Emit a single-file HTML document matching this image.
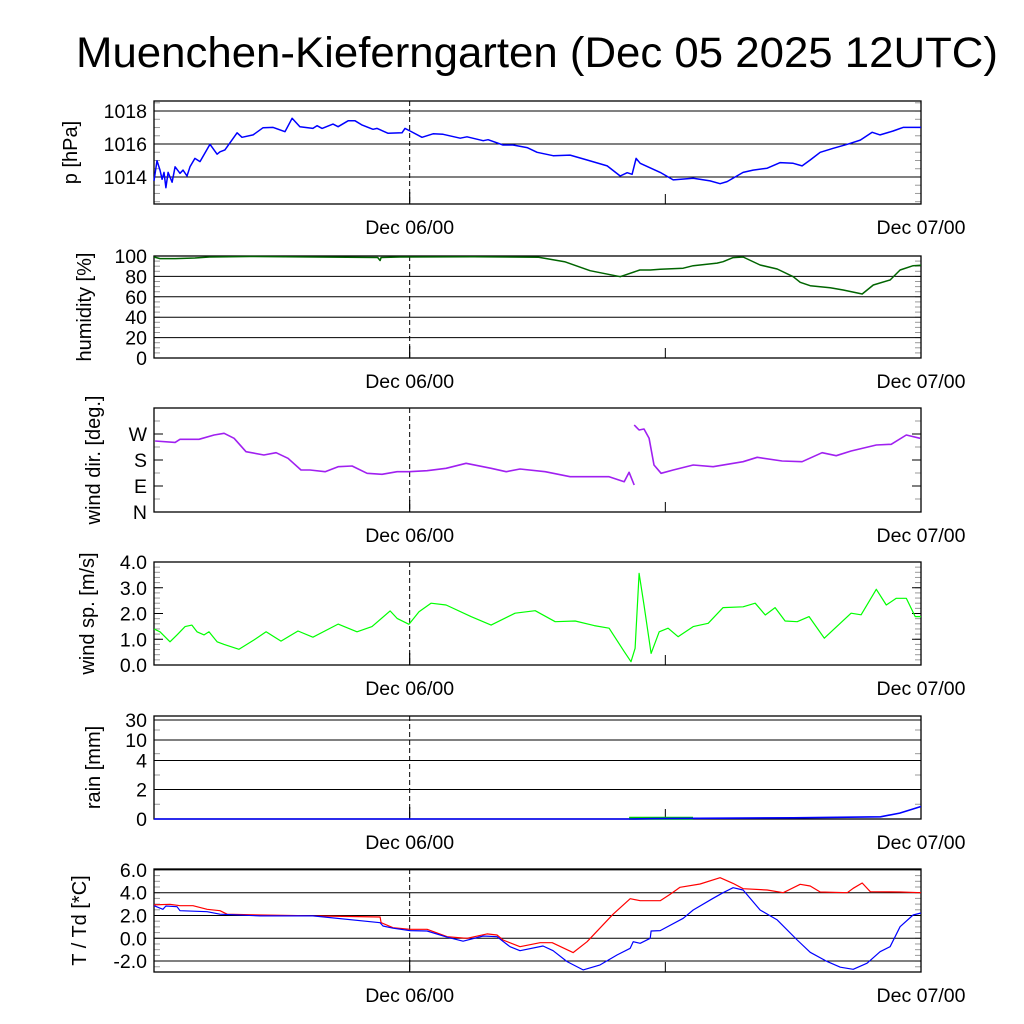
<!DOCTYPE html>
<html><head><meta charset="utf-8"><style>
body{margin:0;background:#fff}
svg{display:block;font-family:"Liberation Sans",sans-serif}
</style></head><body>
<svg id="chart" width="1024" height="1024" viewBox="0 0 1024 1024" xmlns="http://www.w3.org/2000/svg">
<rect width="1024" height="1024" fill="#fff"/>
<text x="537" y="67" font-size="43" text-anchor="middle" textLength="922" lengthAdjust="spacingAndGlyphs">Muenchen-Kieferngarten (Dec 05 2025 12UTC)</text>
<g id="plots"></g>
</svg>
<script>
// time axis in hours from Dec 05 12UTC
const xTickHours = [12, 24, 36];
const xTickLabels = ["Dec 06/00", "Dec 06/12", "Dec 07/00"];

const pTimes = [0,0.14,0.28,0.38,0.47,0.56,0.66,0.85,0.99,1.22,1.36,1.55,1.69,1.92,2.16,2.63,2.96,3.10,3.33,3.90,4.13,4.65,5.12,5.59,6.15,6.48,6.85,7.46,7.65,7.89,8.40,8.64,9.11,9.44,9.77,10.28,10.47,10.99,11.64,11.78,12.02,12.58,13.10,13.57,14.37,14.69,15.45,15.68,16.38,16.85,17.51,17.98,18.73,19.53,20.33,21.27,21.88,22.21,22.44,22.63,22.82,23.76,24.37,25.31,26.10,26.57,26.90,27.65,28.12,28.78,29.39,30.00,30.42,30.80,31.27,31.88,32.54,33.15,33.71,34.08,34.69,35.16,36];
const pValues = [1013.76,1014.99,1014.42,1013.86,1014.28,1013.35,1014.28,1013.68,1014.62,1014.22,1014.42,1014.06,1014.62,1015.13,1014.93,1015.98,1015.38,1015.53,1015.64,1016.68,1016.41,1016.55,1016.99,1017.01,1016.75,1017.56,1017.05,1016.95,1017.11,1016.95,1017.21,1017.05,1017.41,1017.41,1017.15,1016.89,1016.95,1016.65,1016.68,1016.95,1016.79,1016.41,1016.62,1016.59,1016.35,1016.44,1016.20,1016.26,1015.94,1015.94,1015.78,1015.50,1015.29,1015.33,1015.03,1014.67,1014.06,1014.26,1014.16,1015.13,1014.83,1014.28,1013.82,1013.92,1013.76,1013.59,1013.72,1014.28,1014.42,1014.53,1014.87,1014.83,1014.67,1015.03,1015.50,1015.74,1015.98,1016.24,1016.71,1016.55,1016.79,1017.01,1017.01];

const hTimes = [0,0.28,1.0,1.92,2.6,4.5,10.5,10.61,10.66,11.55,15,18.05,19.27,20.47,21.88,22.8,23.3,23.76,24.84,25.31,26.43,26.71,27.18,27.65,28.45,29.25,30,30.33,30.8,31.74,32.35,33.24,33.76,34.55,35.02,35.63,36];
const hValues = [99.0,97.5,97.5,98.0,99.0,99.5,98.5,95.6,98.5,99.0,99.3,98.7,94.4,85.6,79.7,86.3,86.3,87.0,88.0,90.5,93.0,94.4,98.4,99.0,91.2,87.3,79.7,74.2,70.9,68.9,66.7,62.7,71.6,76.5,86.3,90.5,91];

const dTimes = [0.05,0.99,1.22,2.11,2.82,3.29,3.76,4.32,5.16,5.73,6.29,6.90,7.32,8.03,8.64,9.30,10.0,10.7,11.41,11.97,12.82,13.71,14.65,15.82,16.53,17.18,18.36,19.53,21.36,22.07,22.3,22.54,null,22.54,22.77,23.0,23.24,23.47,23.8,24.37,25.31,26.24,27.65,28.31,29.48,30.42,31.36,32.02,32.72,33.9,34.6,35.31,35.96];
const dValues = [245.8,241,251.6,251.6,266.5,272.4,255,208.7,197.3,205.3,185.9,145.4,145.4,139.5,156.8,159.2,134,130.5,139.5,139.5,143,151.3,168.6,151.3,139.5,148.8,139.5,122.2,122.2,104.9,137.4,93.5,null,301,283.8,287.3,255,162.7,134,145.4,162.7,156.8,174.1,189.3,176.5,174.1,205.3,194.9,211.2,231.9,234.3,266.5,255];

const sTimes = [0,0.28,0.75,1.08,1.46,1.78,2.02,2.35,2.58,2.96,3.29,3.99,4.69,5.26,5.96,6.76,7.46,8.64,9.53,10.23,11.08,11.41,11.97,12.44,13.0,13.71,14.88,15.82,16.95,17.89,18.83,19.77,20.66,21.36,22.07,22.39,22.58,22.77,23.0,23.33,23.71,24.13,24.6,25.31,26.01,26.71,27.65,28.22,28.69,29.15,29.62,30.19,30.75,31.46,31.78,32.72,33.19,33.9,34.37,34.84,35.31,35.73,36];
const sValues = [1.40,1.29,0.90,1.17,1.49,1.55,1.29,1.17,1.29,0.90,0.80,0.61,0.97,1.29,0.93,1.32,1.08,1.59,1.29,1.49,2.10,1.81,1.58,2.07,2.40,2.33,1.88,1.55,2.01,2.11,1.68,1.71,1.53,1.43,0.52,0.13,0.65,3.56,2.33,0.45,1.29,1.43,1.10,1.49,1.62,2.23,2.26,2.40,1.94,2.23,1.71,1.68,1.88,1.04,1.29,2.01,1.95,2.94,2.33,2.59,2.59,1.88,1.88];

const rTimes = [0,22.3,23.5,30,34.1,35,36];
const rValues = [0,0,0.03,0.08,0.15,0.4,0.85];
const rHourTimes = [22.3,25.3];
const rHourValues = [0.05,0.05];

const tTimes = [0,0.75,1.22,1.83,2.49,3.10,3.43,4.98,7.46,10.61,10.66,11.22,12.02,12.82,13.76,14.69,15.63,16.10,16.38,17.18,18.12,18.69,19.67,20.33,21.55,22.35,22.82,23.76,24.23,24.69,25.63,26.57,27.18,27.65,28.78,29.53,30.33,30.80,31.27,32.54,32.82,33.24,33.62,35.02,36];
const tValues = [2.93,2.98,2.86,2.86,2.54,2.42,2.11,2.04,1.96,1.87,1.37,0.93,0.79,0.79,0.14,0.0,0.38,0.29,-0.15,-0.74,-0.39,-0.39,-1.26,-0.30,2.11,3.47,3.30,3.30,3.86,4.47,4.76,5.32,4.82,4.35,4.24,4.00,4.74,4.59,4.06,4.00,4.39,4.85,4.09,4.06,4.00];
const tdTimes = [0,0.42,0.56,1.08,1.22,2.49,3.10,4.98,7.46,10.61,10.75,11.22,12.02,12.82,13.76,14.51,15.45,16.10,16.71,17.18,18.26,18.73,19.39,20.14,20.94,21.74,22.35,22.49,22.82,23.29,23.33,23.76,24.84,25.31,26.24,26.71,27.18,27.65,28.45,29.25,30.19,30.80,31.60,32.21,32.82,33.47,34.08,34.55,35.02,35.63,36];
const tdValues = [2.86,2.54,2.83,2.77,2.42,2.33,2.11,1.96,1.96,1.37,1.08,0.88,0.67,0.64,0.09,-0.26,0.20,0.14,-0.74,-1.09,-0.68,-1.09,-2.05,-2.78,-2.34,-1.46,-0.88,-0.30,-0.44,0.0,0.64,0.67,1.75,2.48,3.51,4.00,4.44,4.24,2.48,1.61,-0.15,-1.23,-2.05,-2.54,-2.72,-2.19,-1.18,-0.74,1.02,2.04,2.22];

const pTicks=[1014,1016,1018], pTickLabels=["1014","1016","1018"];
const hTicks=[0,20,40,60,80,100];
const dTicks=[0,90,180,270], dTickLabels=["N","E","S","W"];
const sTicks=[0,1,2,3,4];
const rTicks=[0,2,4,10,30];
const tTicks=[-2,0,2,4,6];

const NS="http://www.w3.org/2000/svg";
const X0=154, X1=921;
const xs = h => X0 + (X1-X0)*h/36;
const root=document.getElementById('plots');
function el(tag, attrs, parent){const e=document.createElementNS(NS,tag);for(const k in attrs)e.setAttribute(k,attrs[k]);(parent||root).appendChild(e);return e;}
function linY(top,bot,min,max){return v=>bot-(v-min)/(max-min)*(bot-top);}
function rainY(v){const vs=[0,2,4,10,30],ps=[819,789.5,760.5,740,720];for(let i=1;i<vs.length;i++){if(v<=vs[i]){return ps[i-1]+(v-vs[i-1])/(vs[i]-vs[i-1])*(ps[i]-ps[i-1]);}}return 720;}

function panel(name, top, bot, ys, ticks, labels, grid, title, titleX, minor){
  const g=el('g',{});
  
  
  if(minor){minor.forEach(v=>{const y=ys(v);if(y<top||y>bot)return;
    const a=el('line',{x1:X0,x2:X0+6,y1:y,y2:y,stroke:'#999','stroke-width':1},g);
    const b=el('line',{x1:X1-6,x2:X1,y1:y,y2:y,stroke:'#999','stroke-width':1},g);});}
  ticks.forEach((v,i)=>{const y=ys(v);
    if(grid){const l=el('line',{x1:X0,x2:X1,y1:y,y2:y,stroke:'#000','stroke-width':1},g);}
    else{const a=el('line',{x1:X0,x2:X0+9,y1:y,y2:y,stroke:'#000','stroke-width':1},g);
      const b=el('line',{x1:X1-9,x2:X1,y1:y,y2:y,stroke:'#000','stroke-width':1},g);}
    const t=el('text',{x:147,y:y+7,'font-size':19.5,'text-anchor':'end'},g);t.textContent=labels[i];
    });
  const dl=el('line',{x1:xs(xTickHours[0]),x2:xs(xTickHours[0]),y1:top,y2:bot,stroke:'#000','stroke-width':1,'stroke-dasharray':'5,3'},g);
  
  const tk=el('line',{x1:xs(xTickHours[1]),x2:xs(xTickHours[1]),y1:bot-10,y2:bot,stroke:'#000','stroke-width':1},g);
  
  const tk2=el('line',{x1:xs(xTickHours[0]),x2:xs(xTickHours[0]),y1:bot-12,y2:bot,stroke:'#000','stroke-width':1.2},g);
  
  [0,2].forEach(i=>{const t=el('text',{x:xs(xTickHours[i]),y:bot+30,'font-size':19.5,'text-anchor':'middle'},g);t.textContent=xTickLabels[i];
    });
  const fr=el('rect',{x:X0,y:top,width:X1-X0,height:bot-top,fill:'none',stroke:'#000','stroke-width':1.3},g);
  
  const cy=(top+bot)/2;
  const at=el('text',{x:titleX,y:cy,'font-size':20,'text-anchor':'middle',transform:`rotate(-90 ${titleX} ${cy})`},g);
  at.textContent=title;
  return g;
}
function series(g, times, vals, ys, color, w, name){
  let d='',pen=false;
  for(let i=0;i<times.length;i++){
    if(times[i]===null||vals[i]===null){pen=false;continue;}
    d+=(pen?'L':'M')+xs(times[i]).toFixed(1)+','+ys(vals[i]).toFixed(1);pen=true;
  }
  const p=el('path',{d:d,fill:'none',stroke:color,'stroke-width':w,'stroke-linejoin':'round'},g);
  
  return p;
}
function range(a,b,s){const r=[];for(let v=a;v<=b+1e-9;v+=s)r.push(+v.toFixed(3));return r;}

let ys=linY(101,204,1012.36,1018.61);
let g=panel('pressure',101,204,ys,pTicks,pTickLabels,true,'p [hPa]',77,range(1012.5,1018.5,0.5));
series(g,pTimes,pValues,ys,'#0000ff',1.5,'pressure-line');
ys=linY(256,358,0,100);
g=panel('humidity',256,358,ys,hTicks,hTicks.map(String),true,'humidity [%]',91,range(0,100,5));
series(g,hTimes,hValues,ys,'#006400',1.5,'humidity-line');
ys=linY(408,512,0,360);
g=panel('wind-direction',408,512,ys,dTicks,dTickLabels,false,'wind dir. [deg.]',100,range(45,360,45));
series(g,dTimes,dValues,ys,'#a020f0',1.6,'wind-direction-line');
ys=linY(562,665,0,4);
g=panel('wind-speed',562,665,ys,sTicks,sTicks.map(v=>v.toFixed(1)),false,'wind sp. [m/s]',94,range(0,4,0.2));
series(g,sTimes,sValues,ys,'#00ff00',1.2,'wind-speed-line');
g=panel('rain',716,819,rainY,rTicks,rTicks.map(String),true,'rain [mm]',100,[1,3,6,20]);
series(g,rHourTimes,rHourValues,rainY,'#00cc00',3,'hourly-rain-bar');
series(g,rTimes,rValues,rainY,'#0000ff',1.6,'accumulated-rain-line');
ys=linY(869,972,-2.96,6.08);
g=panel('temperature',869,972,ys,tTicks,tTicks.map(v=>v.toFixed(1)),true,'T / Td [*C]',86,range(-2.5,6,0.5));
series(g,tTimes,tValues,ys,'#ff0000',1.2,'temperature-line');
series(g,tdTimes,tdValues,ys,'#0000ff',1.2,'dewpoint-line');
</script>
</body></html>
